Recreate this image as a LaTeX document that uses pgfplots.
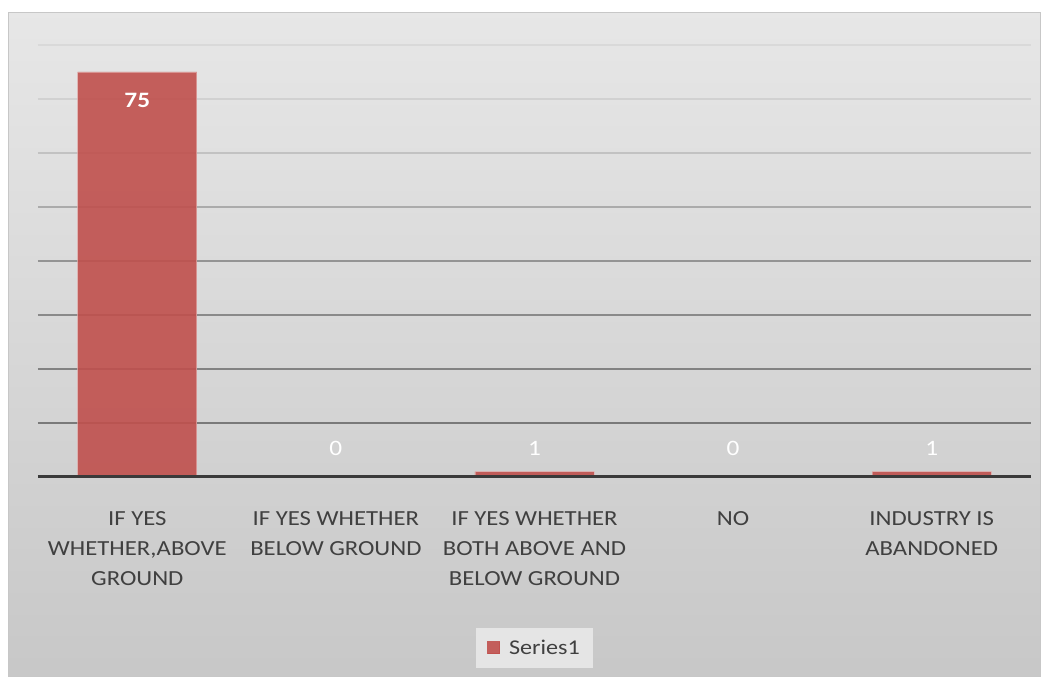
\documentclass[border=0pt]{standalone}
\usepackage{pgfplots}
\pgfplotsset{compat=1.18}
\usepackage{fontspec}
\setmainfont{Carlito}[FakeStretch=1.15]
\definecolor{barred}{HTML}{C0504D}
\definecolor{labgray}{HTML}{404040}
\definecolor{axisgray}{HTML}{3A3A3A}
\begin{document}
\begin{tikzpicture}
\useasboundingbox (0pt,0pt) rectangle (1047pt,682pt);
\fill[white] (0pt,0pt) rectangle (1047pt,682pt);
\shade[left color=black!17, middle color=black!4, right color=black!17] (8pt,5pt) rectangle (1040pt,669pt);
\shade[top color=black!2, bottom color=black!26, opacity=0.5] (8pt,5pt) rectangle (1040pt,669pt);
\draw[black!22, line width=1pt] (8pt,5pt) rectangle (1040pt,669pt);
\begin{axis}[
  at={(38pt,205pt)}, anchor=south west,
  scale only axis, width=993pt, height=432pt,
  xmin=-0.5, xmax=4.5, ymin=0, ymax=80,
  axis on top,
  axis x line=bottom, axis y line=none,
  x axis line style={-, draw=axisgray, line width=3pt},
  ytick=\empty,
  xtick={0,1,2,3,4},
  xtick style={draw=none},
  xticklabels={{IF YES\\WHETHER,ABOVE\\GROUND},{IF YES WHETHER\\BELOW GROUND},{IF YES WHETHER\\BOTH ABOVE AND\\BELOW GROUND},{NO},{INDUSTRY IS\\ABANDONED}},
  xticklabel style={align=center, font=\fontsize{21.5}{30}\selectfont, text=labgray, anchor=north, yshift=-29pt},
  legend style={at={(0.5,-0.395)}, anchor=center, draw=none, fill=black!10,
    font=\fontsize{21}{24}\selectfont, text=labgray, inner xsep=11pt, inner ysep=10pt},
  clip=false,
]
\draw[line width=1.6pt, black!52] (axis cs:-0.5,10) -- (axis cs:4.5,10);
\draw[line width=1.6pt, black!49] (axis cs:-0.5,20) -- (axis cs:4.5,20);
\draw[line width=1.6pt, black!46] (axis cs:-0.5,30) -- (axis cs:4.5,30);
\draw[line width=1.6pt, black!42] (axis cs:-0.5,40) -- (axis cs:4.5,40);
\draw[line width=1.6pt, black!33] (axis cs:-0.5,50) -- (axis cs:4.5,50);
\draw[line width=1.6pt, black!24] (axis cs:-0.5,60) -- (axis cs:4.5,60);
\draw[line width=1.6pt, black!18] (axis cs:-0.5,70) -- (axis cs:4.5,70);
\draw[line width=1.6pt, black!15] (axis cs:-0.5,80) -- (axis cs:4.5,80);
\addplot[ybar, bar width=0.6, fill=barred, fill opacity=0.9, draw=barred!40!white, draw opacity=0.6, line width=0.8pt,
  legend image code/.code={\fill[barred, opacity=0.9] (0pt,-6pt) rectangle (12pt,6pt); \path (19pt,0pt);}]
  coordinates {(0,75) (1,0) (2,1) (3,0) (4,1)};
\addlegendentry{Series1}
\addplot[draw=none, forget plot, nodes near coords, point meta=explicit symbolic,
  nodes near coords style={anchor=center, text=white, font=\fontsize{22}{24}\selectfont}]
  coordinates {(0,69.8) [\textbf{75}] (1,5.2) [0] (2,5.2) [1] (3,5.2) [0] (4,5.2) [1]};
\end{axis}
\end{tikzpicture}
\end{document}
